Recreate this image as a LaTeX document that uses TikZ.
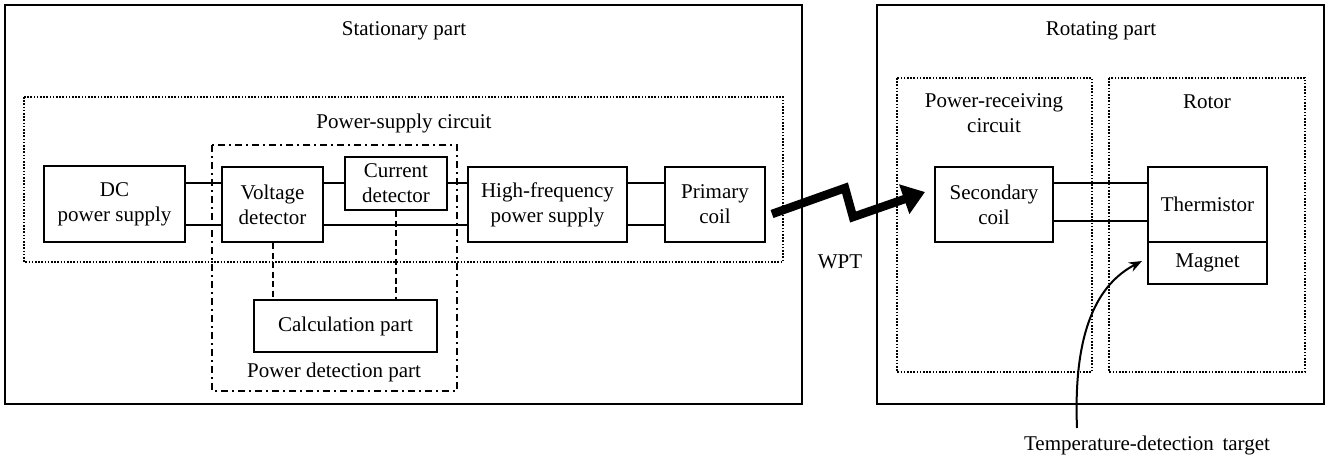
\documentclass[tikz,border=0pt]{standalone}
\usepackage{fontspec}
\setmainfont{Liberation Serif}
\usetikzlibrary{arrows.meta}
\begin{document}
\begin{tikzpicture}[x=1pt,y=-1pt,
  font=\fontsize{21}{25}\selectfont,
  blk/.style={draw,line width=2pt,align=center,inner sep=0pt},
  outer/.style={draw,line width=2.5pt},
  dotbox/.style={draw,line width=1.6pt,dash pattern=on 1.6pt off 1.6pt},
  dashdot/.style={draw,line width=1.6pt,dash pattern=on 7pt off 4pt on 2pt off 4pt},
  wire/.style={line width=2pt},
  sig/.style={line width=2pt,dash pattern=on 6pt off 3.5pt},
  lbl/.style={anchor=base,inner sep=0pt}]
\useasboundingbox (0,0) rectangle (1336,461);
% outer frames
\draw[outer] (5,5) rectangle (802,404);
\draw[outer] (877,5) rectangle (1324,404);
\draw[dotbox] (24,97) rectangle (783,262);
\draw[dashdot] (212,145) rectangle (457,391);
\draw[dotbox] (897,78) rectangle (1092,372);
\draw[dotbox] (1109,78) rectangle (1305,372);
% titles
\node[lbl] (tst) at (404,35) {Stationary part};
\node[lbl] (tpsc) at (404,128) {Power-supply circuit};
\node[lbl] (tpdp) at (334,377) {Power detection part};
\node[lbl] (trot) at (1101,35) {Rotating part};
\node[align=center,inner sep=0pt] (tprc) at (994,113) {Power-receiving\\circuit};
\node[lbl] (trotor) at (1207,108) {Rotor};
\node[lbl] (twpt) at (840,268) {WPT};
\node[lbl] (ttgt) at (1147,450) {Temperature-detection\, target};
% blocks
\node[blk,minimum width=141pt,minimum height=76pt] (dc) at (114.5,204) {DC\\power supply};
\node[blk,minimum width=101pt,minimum height=75pt] (vd) at (272.5,204.5) {Voltage\\detector};
\node[blk,minimum width=102pt,minimum height=53pt] (cd) at (396,183.5) {Current\\detector};
\node[blk,minimum width=159pt,minimum height=75pt] (hf) at (547.5,204.5) {High-frequency\\power supply};
\node[blk,minimum width=100pt,minimum height=75pt] (pc) at (715,204.5) {Primary\\coil};
\node[blk,minimum width=183pt,minimum height=52pt] (calc) at (345.5,326) {Calculation part};
\node[blk,minimum width=118pt,minimum height=75pt] (sc) at (994,204.5) {Secondary\\coil};
\node[blk,minimum width=119pt,minimum height=75pt] (th) at (1207.5,204.5) {Thermistor};
\node[blk,minimum width=119pt,minimum height=42pt] (mg) at (1207.5,263) {Magnet};
% wire levels
\coordinate (up) at (0,183);
\coordinate (lo) at (0,225);
\coordinate (up2) at (0,183);
\coordinate (lo2) at (0,221);
\draw[wire] (dc.east |- up) -- (vd.west |- up);
\draw[wire] (dc.east |- lo) -- (vd.west |- lo);
\draw[wire] (vd.east |- up) -- (cd.west |- up);
\draw[wire] (cd.east |- up) -- (hf.west |- up);
\draw[wire] (vd.east |- lo) -- (hf.west |- lo);
\draw[wire] (hf.east |- up) -- (pc.west |- up);
\draw[wire] (hf.east |- lo) -- (pc.west |- lo);
\draw[wire] (sc.east |- up2) -- (th.west |- up2);
\draw[wire] (sc.east |- lo2) -- (th.west |- lo2);
% signal lines
\draw[sig] (vd.south) -- (vd.south |- calc.north);
\draw[sig] (cd.south) -- (cd.south |- calc.north);
% WPT bolt
\coordinate (b0) at (772,214);
\coordinate (b1) at (845,188);
\coordinate (b2) at (853,217);
\coordinate (b3) at (925,192);
\draw[line width=8.5pt,line join=miter,miter limit=10,-{Triangle[length=22pt,width=30pt]}] (b0) -- (b1) -- (b2) -- (b3);
% temperature detection arrow
\coordinate (t0) at (1077,428);
\coordinate (t1) at (1142,261);
\draw[line width=2pt,-{Stealth[length=13pt,width=10pt]}] (t0) .. controls (1073,330) and (1098,284) .. (t1);
\end{tikzpicture}
\end{document}
